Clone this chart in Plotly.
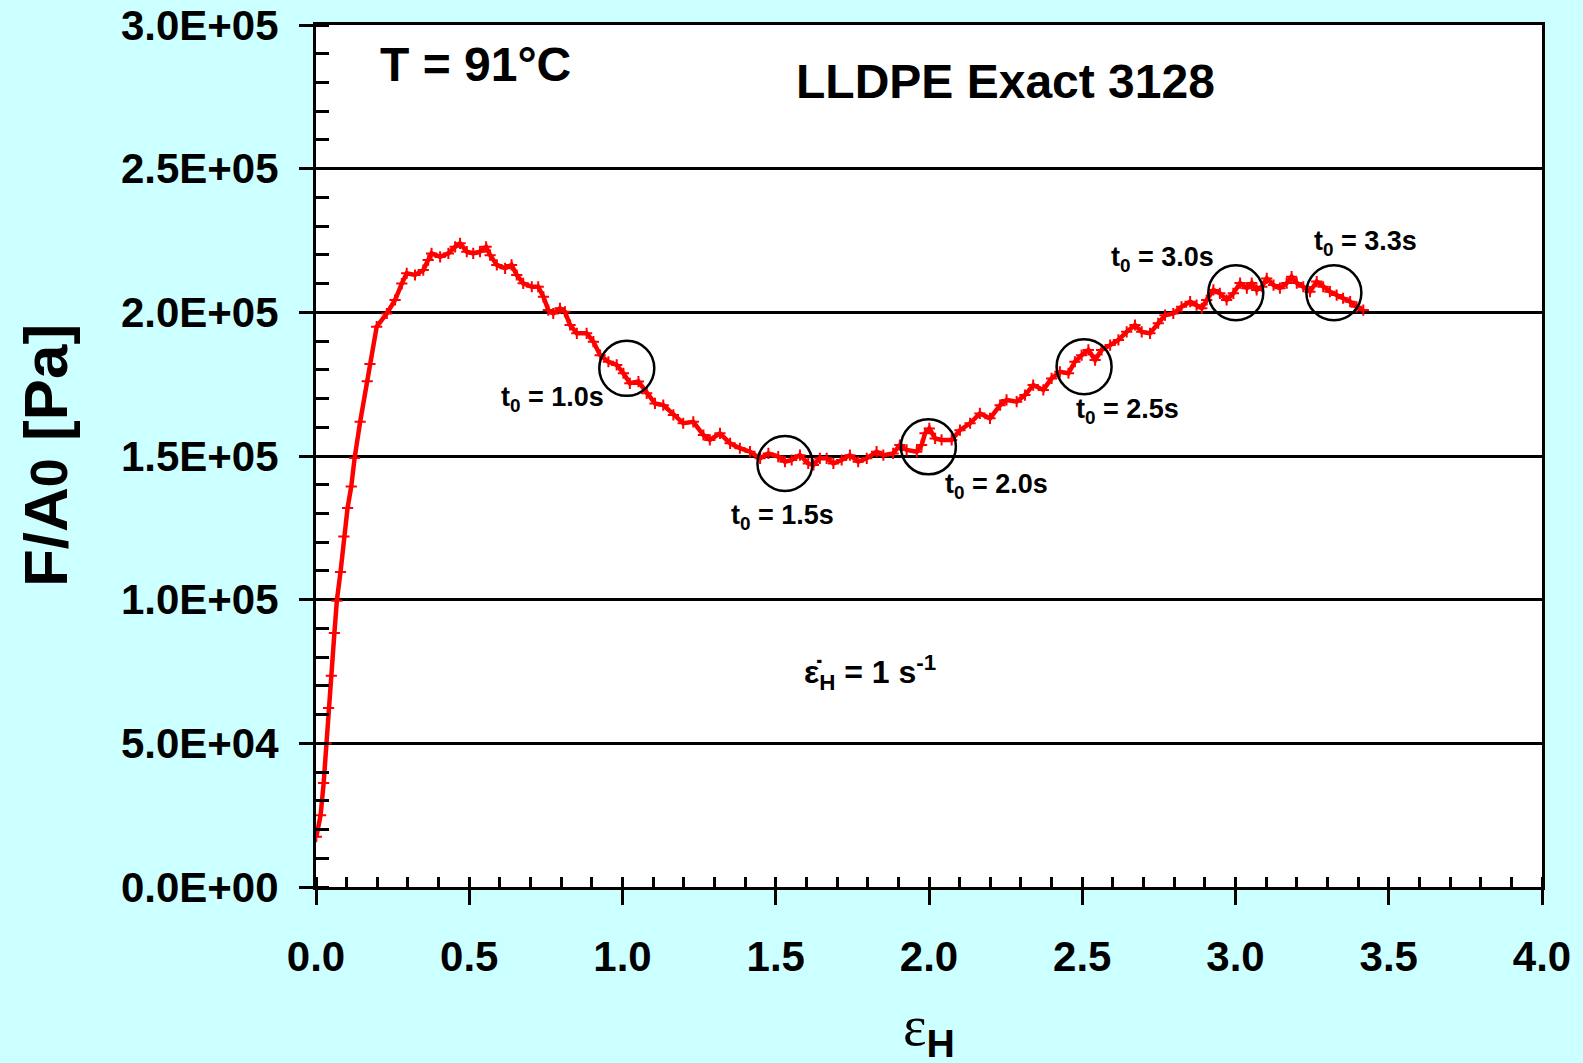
import plotly.graph_objects as go

# ---------------- data ----------------
strain = [0.001, 0.015, 0.025, 0.033, 0.041, 0.050, 0.060, 0.068, 0.080, 0.091,
          0.103, 0.115, 0.126, 0.144, 0.167, 0.176, 0.198, 0.231, 0.258, 0.280,
          0.296, 0.323, 0.350, 0.366, 0.377, 0.405, 0.432, 0.454, 0.470, 0.492,
          0.513, 0.535, 0.555, 0.568, 0.590, 0.617, 0.638, 0.655, 0.676, 0.704,
          0.725, 0.742, 0.758, 0.774, 0.796, 0.812, 0.829, 0.851, 0.883, 0.905,
          0.927, 0.954, 0.981, 1.003, 1.024, 1.052, 1.079, 1.106, 1.133, 1.166,
          1.198, 1.231, 1.264, 1.285, 1.318, 1.351, 1.383, 1.416, 1.449, 1.476,
          1.508, 1.530, 1.552, 1.579, 1.606, 1.623, 1.644, 1.666, 1.688, 1.715,
          1.742, 1.769, 1.797, 1.829, 1.851, 1.883, 1.905, 1.927, 1.960, 1.976,
          1.987, 2.001, 2.020, 2.041, 2.074, 2.101, 2.134, 2.166, 2.199, 2.232,
          2.253, 2.286, 2.313, 2.340, 2.373, 2.400, 2.427, 2.455, 2.476, 2.498,
          2.520, 2.542, 2.563, 2.591, 2.618, 2.645, 2.672, 2.694, 2.721, 2.748,
          2.770, 2.797, 2.824, 2.852, 2.873, 2.890, 2.906, 2.928, 2.949, 2.971,
          2.993, 3.015, 3.037, 3.053, 3.069, 3.086, 3.102, 3.124, 3.145, 3.167,
          3.183, 3.200, 3.221, 3.243, 3.265, 3.286, 3.308, 3.330, 3.351, 3.374,
          3.395, 3.417]

stress_kpa = [17.5, 25.0, 36.2, 49.9, 62.3, 73.5, 88.4, 99.6, 109.6, 122.0,
              131.9, 139.4, 149.3, 161.9, 176.0, 182.0, 195.0, 199.6, 204.3, 210.0,
              213.6, 213.0, 214.7, 218.2, 220.5, 219.3, 220.5, 222.8, 224.0, 221.1,
              220.5, 221.1, 222.8, 219.9, 216.5, 215.3, 216.5, 213.0, 210.1, 208.9,
              208.9, 205.4, 200.8, 199.6, 201.4, 200.2, 195.6, 192.7, 192.7, 189.8,
              185.1, 182.8, 181.7, 178.8, 175.3, 175.9, 171.8, 168.3, 167.7, 164.3,
              161.4, 161.9, 157.3, 155.6, 157.9, 154.4, 152.7, 151.5, 149.2, 150.9,
              149.8, 148.0, 148.6, 150.3, 147.4, 146.9, 149.2, 149.2, 147.4, 148.6,
              150.3, 148.0, 149.2, 151.5, 150.3, 150.9, 153.8, 152.1, 151.5, 153.8,
              157.9, 159.6, 156.1, 155.6, 155.6, 159.0, 161.4, 164.8, 163.1, 167.7,
              169.5, 168.9, 171.2, 174.7, 173.0, 177.0, 179.3, 178.8, 182.8, 185.1,
              186.9, 183.4, 186.9, 188.6, 190.4, 193.2, 195.6, 193.2, 192.7, 196.2,
              199.0, 199.6, 201.9, 203.7, 202.5, 201.4, 204.3, 207.8, 206.6, 204.3,
              206.6, 210.2, 208.4, 210.2, 207.8, 208.9, 211.8, 209.5, 208.4, 210.2,
              212.4, 210.2, 208.9, 207.2, 210.7, 208.9, 207.2, 206.0, 204.9, 203.7,
              201.9, 200.8]
stress = [v * 1000 for v in stress_kpa]

circle_x = [1.014, 1.530, 1.998, 2.506, 3.001, 3.321]
circle_y = [180500, 147400, 153200, 181100, 206800, 206800]

label_text = ["1.0s", "1.5s", "2.0s", "2.5s", "3.0s", "3.3s"]
label_x = [0.771, 1.522, 2.221, 2.649, 2.761, 3.423]
label_y = [169700, 128900, 139500, 165500, 218500, 224100]

y_tickvals = [0, 50000, 100000, 150000, 200000, 250000, 300000]
y_ticktext = ["0.0E+00", "5.0E+04", "1.0E+05", "1.5E+05", "2.0E+05", "2.5E+05", "3.0E+05"]
x_tickvals = [0.0, 0.5, 1.0, 1.5, 2.0, 2.5, 3.0, 3.5, 4.0]
x_ticktext = ["0.0", "0.5", "1.0", "1.5", "2.0", "2.5", "3.0", "3.5", "4.0"]

# ---------------- figure ----------------
FONT = "Liberation Sans, Arial, sans-serif"

fig = go.Figure()

fig.add_trace(go.Scatter(
    x=strain, y=stress, mode="lines+markers",
    line=dict(color="#FF0000", width=4.5),
    marker=dict(symbol="cross-thin", size=8, color="#FF0000",
                line=dict(color="#FF0000", width=2)),
    showlegend=False, hoverinfo="skip"))

fig.add_trace(go.Scatter(
    x=circle_x, y=circle_y, mode="markers",
    marker=dict(symbol="circle-open", size=55, color="black",
                line=dict(color="black", width=2.5)),
    showlegend=False, hoverinfo="skip"))

for lx, ly, lt in zip(label_x, label_y, label_text):
    fig.add_annotation(x=lx, y=ly, xref="x", yref="y",
                       text="<b>t<sub>0</sub> = " + lt + "</b>",
                       showarrow=False, font=dict(family=FONT, size=27, color="black"))

fig.add_annotation(x=0.521, y=286300, xref="x", yref="y", text="<b>T = 91°C</b>",
                   showarrow=False, font=dict(family=FONT, size=48, color="black"))
fig.add_annotation(x=2.25, y=280300, xref="x", yref="y", text="<b>LLDPE Exact 3128</b>",
                   showarrow=False, font=dict(family=FONT, size=48, color="black"))
fig.add_annotation(x=1.809, y=74800, xref="x", yref="y",
                   text="<b>ε̇<sub>H</sub> = 1 s<sup>-1</sup></b>",
                   showarrow=False, font=dict(family=FONT, size=32, color="black"))

# axis titles
fig.add_annotation(x=-0.221, y=0.5, xref="paper", yref="paper",
                   xanchor="center", yanchor="middle",
                   text="<b>F/A<span style=\"font-size:52px\">0</span> [Pa]</b>",
                   textangle=-90, showarrow=False,
                   font=dict(family=FONT, size=62, color="black"))
fig.add_annotation(x=0.5, y=-0.166, xref="paper", yref="paper",
                   xanchor="center", yanchor="middle",
                   text="<span style=\"font-family:Liberation Serif\">ε</span><b><sub>H</sub></b>",
                   showarrow=False,
                   font=dict(family=FONT, size=56, color="black"))

fig.update_layout(
    width=1583, height=1063,
    margin=dict(l=316, r=41, t=25, b=176, autoexpand=False),
    paper_bgcolor="#CCFFFF", plot_bgcolor="white",
    xaxis=dict(range=[0, 4], showgrid=False, zeroline=False, automargin=False,
               showline=True, linecolor="black", linewidth=3, mirror=True,
               tickvals=x_tickvals, ticktext=x_ticktext,
               ticks="outside", ticklen=15, tickwidth=3, tickcolor="black",
               ticklabelstandoff=16,
               minor=dict(ticks="inside", dtick=0.1, ticklen=10, tickwidth=2.5,
                          tickcolor="black", showgrid=False),
               tickfont=dict(family=FONT, size=42, color="black", weight="bold")),
    xaxis2=dict(range=[0, 4], overlaying="x", showgrid=False, zeroline=False,
                automargin=False,
                showline=False, tickvals=x_tickvals, showticklabels=False,
                ticks="inside", ticklen=12, tickwidth=3, tickcolor="black"),
    yaxis=dict(range=[0, 300000], showgrid=True, gridcolor="black", gridwidth=2.5,
               zeroline=False, showline=True, linecolor="black", linewidth=3, mirror=True,
               automargin=False,
               tickvals=y_tickvals, ticktext=y_ticktext,
               ticks="outside", ticklen=14, tickwidth=3, tickcolor="black",
               ticklabelstandoff=12,
               minor=dict(ticks="inside", dtick=10000, ticklen=13, tickwidth=2.5,
                          tickcolor="black", showgrid=False),
               tickfont=dict(family=FONT, size=42, color="black", weight="bold")),
)

fig.write_html("out.html")
